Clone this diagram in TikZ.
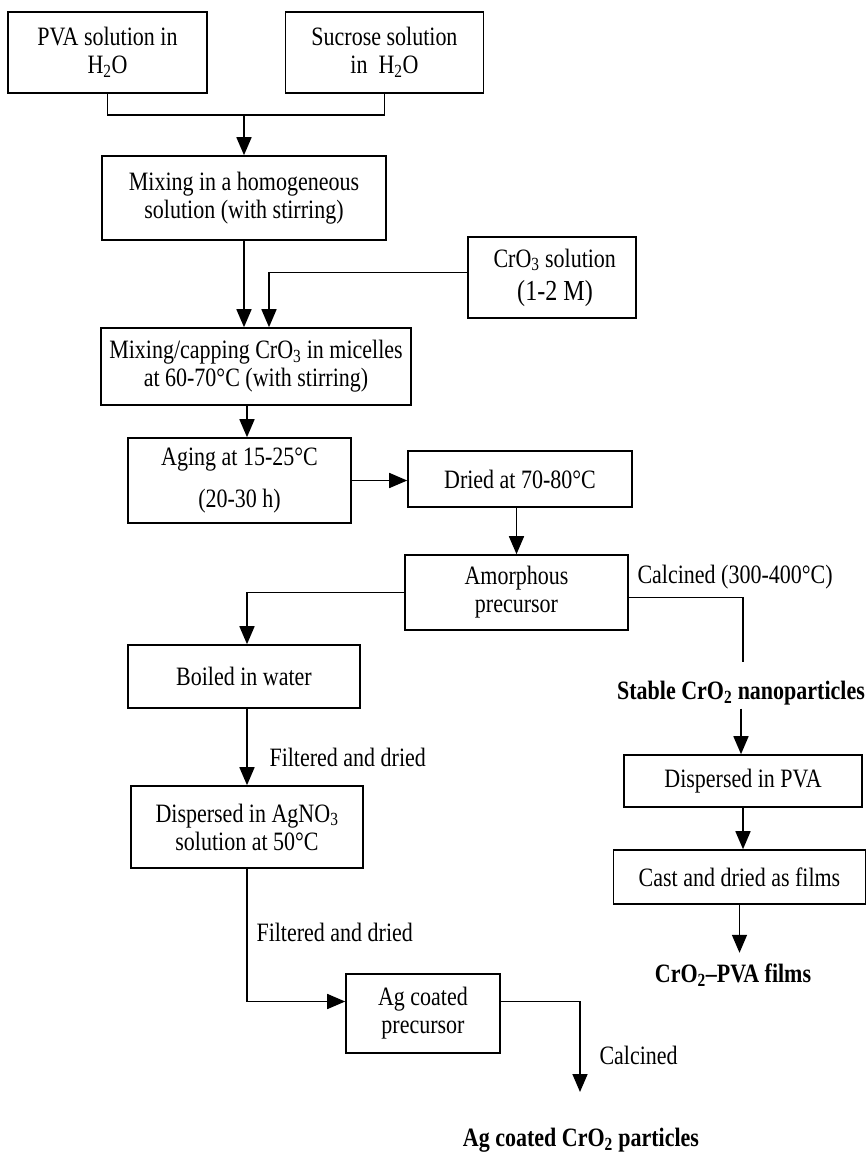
\documentclass[tikz,border=0pt]{standalone}
\usepackage{fontspec}
\setmainfont{Liberation Serif}[FakeStretch=0.83]
\usetikzlibrary{arrows.meta}
\newcommand{\chemsub}[1]{\textsubscript{#1}}

\begin{document}
\begin{tikzpicture}[x=1pt,y=-1pt,
  every node/.style={font=\fontsize{26.5}{28}\selectfont},
  stepbox/.style={draw,line width=1.6pt,align=center,inner sep=0pt},
  flow/.style={line width=1.6pt},
  arr/.style={flow,-{Triangle[length=18pt,width=15pt]}},
  result/.style={font=\fontsize{26.5}{28}\selectfont\bfseries}]
\useasboundingbox (0,0) rectangle (867,1152);
\node[stepbox,minimum width=199pt,minimum height=81pt] (pva) at (107.5,52.5) {PVA solution in\\H\chemsub{2}O};
\node[stepbox,minimum width=198pt,minimum height=81pt] (suc) at (384.5,52.5) {Sucrose solution\\in\ \ H\chemsub{2}O};
\node[stepbox,minimum width=284pt,minimum height=84pt] (mix) at (244,198) {Mixing in a homogeneous\\solution (with stirring)};
\node[stepbox,minimum width=168pt,minimum height=81pt] (cro) at (552,277.5) {\ CrO\chemsub{3} solution\\[5pt]{\fontsize{29}{32}\selectfont\ (1-2 M)}};
\node[stepbox,minimum width=310pt,minimum height=77pt] (mc) at (256,366.5) {Mixing/capping CrO\chemsub{3} in micelles\\at 60-70°C (with stirring)};
\node[stepbox,minimum width=223pt,minimum height=85pt] (aging) at (239.5,480.5) {Aging at 15-25°C\\[14pt](20-30 h)};
\node[stepbox,minimum width=224pt,minimum height=56pt] (dried) at (520,479) {Dried at 70-80°C};
\node[stepbox,minimum width=223pt,minimum height=75pt] (amorph) at (516.5,592.5) {Amorphous\\precursor};
\node[stepbox,minimum width=232pt,minimum height=63pt] (boiled) at (244,676.5) {Boiled in water};
\node[stepbox,minimum width=232pt,minimum height=82pt] (agno) at (247,827) {Dispersed in AgNO\chemsub{3}\\solution at 50°C};
\node[stepbox,minimum width=154pt,minimum height=79pt] (agc) at (423,1013.5) {Ag coated\\precursor};
\node[stepbox,minimum width=238pt,minimum height=52pt] (disp) at (743,781) {Dispersed in PVA};
\node[stepbox,minimum width=252pt,minimum height=54pt] (cast) at (739.5,877) {Cast and dried as films};
\node[result] (stable) at (741,693) {Stable CrO\chemsub{2} nanoparticles};
\node[result] (films) at (733,975) {CrO\chemsub{2}--PVA films};
\node[result] (agcro) at (581,1140) {Ag coated CrO\chemsub{2} particles};
\node[anchor=west] (calc1) at (634,577) {Calcined (300-400°C)};
\node[anchor=west] (filt1) at (266,757) {Filtered and dried};
\node[anchor=west] (filt2) at (253,932) {Filtered and dried};
\node[anchor=west] (calc2) at (596,1055) {Calcined};
\coordinate (join) at (244,115);
\coordinate (calcend) at (743,662);
\coordinate (caltip) at (580,1092);
\draw[flow] (pva.south) |- (join) -| (suc.south);
\draw[arr] (join) -- (mix.north);
\draw[arr] (mix.south) -- (mix.south |- mc.north);
\draw[arr] ([yshift=5pt]cro.west) -| ([xshift=13pt]mc.north);
\draw[arr] ([xshift=-9pt]mc.south) -- ([xshift=-9pt]mc.south |- aging.north);
\draw[arr] (aging.east) -- (aging.east -| dried.west);
\draw[arr] (amorph.north |- dried.south) -- (amorph.north);
\draw[arr] (amorph.west) -| ([xshift=3pt]boiled.north);
\draw[flow] ([yshift=-5pt]amorph.east) -| (calcend);
\draw[arr] (stable.south) -- (stable.south |- disp.north);
\draw[arr] (disp.south) -- (disp.south |- cast.north);
\draw[arr] (cast.south) -- ++(0,48);
\draw[arr] ([xshift=3pt]boiled.south) -- ([xshift=3pt]boiled.south |- agno.north);
\draw[arr] (agno.south) |- ([yshift=12pt]agc.west);
\draw[arr] ([yshift=12pt]agc.east) -| (caltip);
\end{tikzpicture}
\end{document}
